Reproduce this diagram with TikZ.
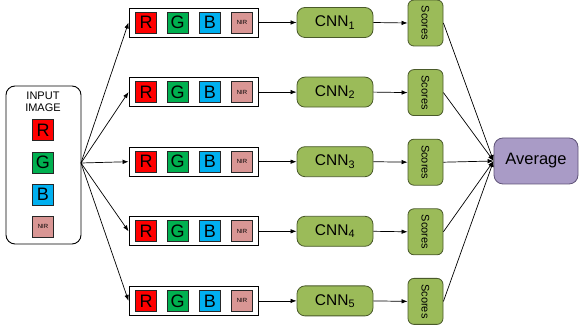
\documentclass[tikz,border=0pt]{standalone}
\usepackage{fontspec}
\setmainfont{Liberation Sans}
\usetikzlibrary{arrows.meta}
\definecolor{rr}{HTML}{FF0000}
\definecolor{gg}{HTML}{00B050}
\definecolor{bb}{HTML}{00B0F0}
\definecolor{nir}{HTML}{D99694}
\definecolor{cnng}{HTML}{9BBB59}
\definecolor{cnnb}{HTML}{4A5A2A}
\definecolor{avg}{HTML}{A99BC6}
\definecolor{avgb}{HTML}{5F5378}
\begin{document}
\begin{tikzpicture}[x=1pt,y=1pt,
  chan/.style={draw=black!85, line width=0.8pt, minimum width=21pt, minimum height=21pt, inner sep=0pt, font=\fontsize{18}{18}\selectfont},
  nirbox/.style={chan, fill=nir, font=\fontsize{6}{6}\selectfont},
  rowbox/.style={draw=black, line width=0.9pt, minimum width=129pt, minimum height=29pt, inner sep=0pt},
  cnn/.style={draw=cnnb, fill=cnng, line width=0.8pt, rounded corners=8pt, minimum width=76pt, minimum height=30pt, inner sep=0pt, font=\fontsize{15.5}{15.5}\selectfont},
  scores/.style={draw=cnnb, fill=cnng, line width=0.8pt, rounded corners=6pt, minimum width=35pt, minimum height=46pt, inner sep=0pt},
  arr/.style={-{Latex[length=6pt,width=4.5pt]}, line width=0.7pt},
  ln/.style={line width=0.7pt}]
\useasboundingbox (0,0) rectangle (579,329);
% input box
\node[draw=black, line width=0.9pt, rounded corners=9pt, minimum width=75pt, minimum height=158pt, inner sep=0pt] (in) at (43.5,164) {};
\node[align=center, font=\fontsize{11}{12}\selectfont] (intxt) at (43,227) {INPUT\\IMAGE};
\node[chan, fill=rr] (iR) at (43,199) {R};
\node[chan, fill=gg] (iG) at (43,166.5) {G};
\node[chan, fill=bb] (iB) at (43,134.5) {B};
\node[nirbox] (iN) at (43,102.5) {NIR};
\coordinate (src) at (81,166);
\node[draw=avgb, fill=avg, line width=0.8pt, rounded corners=9pt, minimum width=84pt, minimum height=46pt, inner sep=0pt, font=\fontsize{16.5}{16.5}\selectfont] (avg) at (536,168) {Average};
\foreach \i in {1,...,5}{
  \pgfmathsetmacro{\yy}{329-22.5-69.6*(\i-1)}
  \node[rowbox] (row\i) at (193.5,\yy) {};
  \node[chan, fill=rr] (r\i) at (146,\yy) {R};
  \node[chan, fill=gg] (g\i) at (177.5,\yy) {G};
  \node[chan, fill=bb] (b\i) at (210,\yy) {B};
  \node[nirbox] (n\i) at (242,\yy) {NIR};
  \node[cnn] (c\i) at (335,\yy) {CNN\textsubscript{\i}};
  \node[scores] (s\i) at (425.5,\yy-0.5) {};
  \node[rotate=-90, font=\fontsize{11}{11}\selectfont] (st\i) at (s\i) {Scores};
  \draw[arr] (src) -- (row\i.west);
  \draw[arr] (row\i.east) -- (c\i.west);
  \draw[arr] (c\i.east) -- (s\i.west);
  \draw[arr] (s\i.east) -- (avg.west);
}
\end{tikzpicture}
\end{document}
